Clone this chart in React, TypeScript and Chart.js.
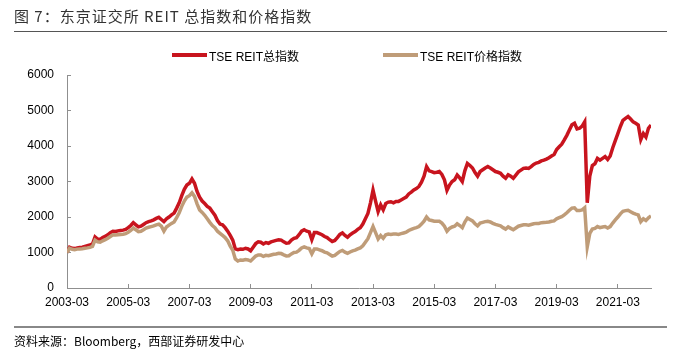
import React, { useEffect, useRef } from 'react';
import { Chart, registerables } from 'chart.js';

Chart.register(...registerables);

// Monthly observations, 2003-03 .. 2022-04
const months: string[] = [];
for (let i = 0; i < 230; i++) {
  const t = 2 + i;
  months.push(`${2003 + Math.floor(t / 12)}-${String((t % 12) + 1).padStart(2, '0')}`);
}

const xTickLabels = ['2003-03', '2005-03', '2007-03', '2009-03', '2011-03', '2013-03', '2015-03', '2017-03', '2019-03', '2021-03'];
const yTicks = [0, 1000, 2000, 3000, 4000, 5000, 6000];

const seriesNames = ['TSE REIT总指数', 'TSE REIT价格指数'];
const seriesColors = ['#C8141E', '#BF9C78'];

const totalIndex = [
  1000, 1150, 1120, 1110, 1130, 1140, 1150, 1170, 1190, 1210,
  1240, 1440, 1380, 1370, 1420, 1460, 1500, 1560, 1600, 1590, 1610, 1620,
  1630, 1650, 1700, 1760, 1840, 1780, 1720, 1740, 1790, 1840, 1870, 1890,
  1920, 1960, 1990, 1930, 1870, 1950, 2000, 2060, 2110, 2250, 2400, 2600,
  2780, 2900, 2950, 3070, 2950, 2720, 2560, 2450, 2380, 2300, 2250, 2150,
  2050, 1900, 1800, 1780, 1700, 1600, 1480, 1350, 1100, 1080, 1100, 1090,
  1120, 1100, 1050, 1150, 1250, 1300, 1290, 1240, 1280, 1260, 1300, 1320,
  1340, 1360, 1350, 1300, 1260, 1270, 1350, 1400, 1420, 1500, 1600, 1640,
  1600, 1580, 1360, 1560, 1560, 1530, 1500, 1450, 1420, 1360, 1310, 1340,
  1420, 1510, 1550, 1480, 1430, 1500, 1550, 1590, 1650, 1700, 1800, 1950,
  2100, 2400, 2760, 2450, 2150, 2340, 2200, 2380, 2420, 2430, 2400, 2440,
  2440, 2480, 2520, 2560, 2650, 2700, 2760, 2800, 2860, 2980, 3150, 3420,
  3300, 3280, 3250, 3260, 3280, 3200, 3050, 2750, 2900, 3000, 3050, 3180,
  3100, 3000, 3300, 3510, 3450, 3380, 3250, 3150, 3280, 3330, 3380, 3420,
  3380, 3330, 3280, 3260, 3230, 3150, 3090, 3190, 3150, 3090, 3180, 3270,
  3320, 3370, 3380, 3370, 3420, 3480, 3520, 3540, 3580, 3600, 3630, 3670,
  3720, 3760, 3900, 3980, 4050, 4170, 4300, 4450, 4600, 4640, 4480, 4500,
  4560, 4680, 2400, 3150, 3450, 3500, 3650, 3600, 3650, 3700, 3620, 3720,
  3950, 4150, 4350, 4550, 4720, 4780, 4830, 4760, 4680, 4640, 4590, 4180,
  4350, 4250, 4500, 4590,
];

const priceIndex = [
  1000, 1120, 1090, 1080, 1095, 1100, 1105, 1120, 1130, 1145,
  1170, 1350, 1300, 1290, 1330, 1360, 1400, 1450, 1500, 1490, 1500, 1510,
  1515, 1530, 1570, 1620, 1690, 1640, 1590, 1600, 1640, 1690, 1710, 1730,
  1750, 1780, 1800, 1740, 1600, 1720, 1770, 1820, 1860, 1980, 2120, 2300,
  2450, 2560, 2600, 2680, 2580, 2370, 2200, 2130, 2050, 1950, 1850, 1760,
  1700, 1600, 1540, 1480, 1420, 1330, 1180, 1060, 820, 760, 790, 780,
  800, 790, 760, 830, 900, 930, 930, 890, 920, 910, 930, 950,
  960, 980, 970, 935, 905, 910, 960, 1000, 1010, 1060, 1130, 1160,
  1130, 1110, 960, 1100, 1100, 1075, 1050, 1010, 990, 945, 900, 920,
  975, 1030, 1060, 1010, 975, 1015, 1045, 1065, 1100, 1130, 1190, 1290,
  1390, 1560, 1730, 1560, 1380, 1480, 1400, 1500, 1520, 1510, 1520, 1520,
  1510, 1530, 1550, 1570, 1620, 1650, 1680, 1700, 1730, 1800, 1880, 2000,
  1920, 1900, 1880, 1880, 1880, 1830, 1740, 1600, 1680, 1720, 1740, 1810,
  1760, 1700, 1860, 1970, 1930, 1890, 1810, 1750, 1830, 1850, 1870, 1880,
  1860, 1820, 1790, 1770, 1750, 1700, 1660, 1720, 1680, 1640, 1690, 1740,
  1760, 1780, 1780, 1770, 1790, 1810, 1820, 1820, 1840, 1845, 1850, 1860,
  1880, 1890, 1950, 1980, 2010, 2060, 2120, 2190, 2250, 2260, 2180, 2180,
  2200, 2260, 1160, 1540, 1660, 1680, 1730, 1700, 1720, 1730, 1690, 1730,
  1830, 1920, 2000, 2090, 2160, 2180, 2190, 2150, 2110, 2080, 2060, 1870,
  1950, 1900, 1980, 2030,
];

const AXIS_COLOR = '#8f8f8f';
const FONT = '"Liberation Sans", Arial, "Noto Sans CJK SC", sans-serif';

export default function App() {
  const canvasRef = useRef<HTMLCanvasElement | null>(null);

  useEffect(() => {
    const canvas = canvasRef.current;
    if (!canvas) return;
    const chart = new Chart(canvas, {
      type: 'line',
      data: {
        datasets: [
          {
            label: seriesNames[0],
            data: totalIndex.map((v, i) => ({ x: i, y: v })),
            borderColor: seriesColors[0],
            backgroundColor: seriesColors[0],
            borderWidth: 3.5,
            pointRadius: 0,
            tension: 0,
            order: 1,
          },
          {
            label: seriesNames[1],
            data: priceIndex.map((v, i) => ({ x: i, y: v })),
            borderColor: seriesColors[1],
            backgroundColor: seriesColors[1],
            borderWidth: 3.5,
            pointRadius: 0,
            tension: 0,
            order: 0,
          },
        ],
      },
      options: {
        responsive: false,
        animation: false,
        devicePixelRatio: 1,
        layout: { padding: { top: 75, right: 30, left: 0, bottom: 0 } },
        plugins: { legend: { display: false }, tooltip: { enabled: false }, title: { display: false } },
        scales: {
          x: {
            type: 'linear',
            min: 0,
            max: months.length - 1,
            afterFit: (s: any) => { s.height = 63; },
            afterBuildTicks: (s: any) => {
              s.ticks = xTickLabels.map((l) => ({ value: months.indexOf(l) }));
            },
            ticks: {
              autoSkip: false,
              maxRotation: 0,
              padding: 11,
              color: '#000',
              font: { family: FONT, size: 12 },
              callback: (v: any) => months[Number(v)],
            },
            grid: { drawOnChartArea: false, tickLength: -4, color: AXIS_COLOR, lineWidth: 1 },
            border: { display: true, color: AXIS_COLOR, width: 1 },
          },
          y: {
            type: 'linear',
            min: yTicks[0],
            max: yTicks[yTicks.length - 1],
            afterFit: (s: any) => { s.width = 67; },
            afterBuildTicks: (s: any) => {
              s.ticks = yTicks.map((v) => ({ value: v }));
            },
            ticks: {
              padding: 17,
              color: '#000',
              font: { family: FONT, size: 12 },
              callback: (v: any) => String(v),
            },
            grid: { drawOnChartArea: false, tickLength: -4, color: AXIS_COLOR, lineWidth: 1 },
            border: { display: true, color: AXIS_COLOR, width: 1 },
          },
        },
      },
    });
    return () => chart.destroy();
  }, []);

  const legendPos = [172, 383];

  return (
    <div style={{ position: 'fixed', left: 0, top: 0, width: 681, height: 351, background: '#fff', overflow: 'hidden' }}>
      <canvas ref={canvasRef} width={681} height={351} style={{ position: 'absolute', left: 0, top: 0, width: 681, height: 351 }} />
      <div style={{ position: 'absolute', left: 14, top: 6, fontFamily: '"Noto Sans CJK SC", sans-serif', fontSize: 15, color: '#333', letterSpacing: 1, whiteSpace: 'nowrap', lineHeight: '20px' }}>
        图 7：东京证交所 REIT 总指数和价格指数
      </div>
      <div style={{ position: 'absolute', left: 14, top: 31, width: 653, height: 1, background: '#555' }} />
      {seriesNames.map((name, i) => (
        <div key={name} style={{ position: 'absolute', left: legendPos[i], top: 47, height: 16, display: 'flex', alignItems: 'center', whiteSpace: 'nowrap' }}>
          <div style={{ width: 35, height: 4, background: seriesColors[i], marginRight: 2 }} />
          <span style={{ fontFamily: FONT, fontSize: 12, color: '#000' }}>{name}</span>
        </div>
      ))}
      <div style={{ position: 'absolute', left: 14, top: 326, width: 653, height: 2, background: '#888' }} />
      <div style={{ position: 'absolute', left: 14, top: 333, fontFamily: '"Noto Sans CJK SC", sans-serif', fontSize: 12, color: '#000', whiteSpace: 'nowrap', lineHeight: '16px' }}>
        资料来源：Bloomberg，西部证券研发中心
      </div>
    </div>
  );
}
